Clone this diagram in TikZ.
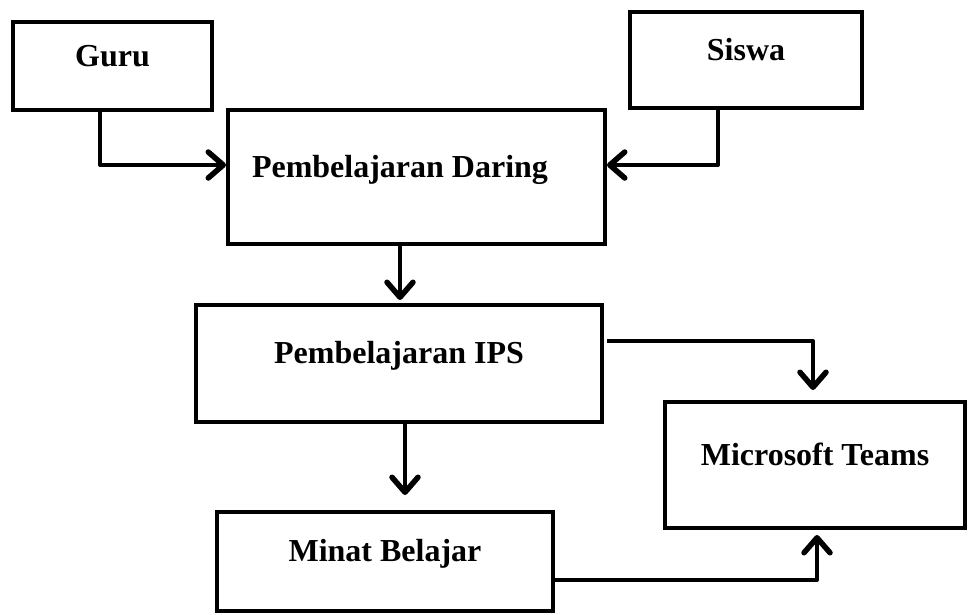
\documentclass[tikz,border=0pt]{standalone}
\usepackage{fontspec}
\setmainfont{Liberation Serif}
\usetikzlibrary{arrows.meta}

\tikzset{
	kotak/.style={draw, line width=4pt, rectangle, inner sep=0pt, text height=22pt, text depth=22pt, font=\fontsize{32}{38}\selectfont\bfseries},
	panah/.style={line width=4pt, line join=round, -{Straight Barb[length=15pt, width=26pt, line width=5.5pt, round]}}
}

\begin{document}
\begin{tikzpicture}[x=1pt, y=-1pt]
	\useasboundingbox (0,0) rectangle (968,614);
	\node [kotak, minimum width=199pt, minimum height=88pt] (guru) at (112.5, 66) {Guru};
	\node [kotak, minimum width=232pt, minimum height=96pt] (siswa) at (746, 60) {Siswa};
	\node [kotak, minimum width=377pt, minimum height=134pt] (daring) at (416.5, 177) {Pembelajaran Daring\hspace*{33pt}};
	\node [kotak, minimum width=406pt, minimum height=117pt] (ips) at (399, 363.5) {Pembelajaran IPS};
	\node [kotak, minimum width=300pt, minimum height=126pt] (teams) at (815, 465) {Microsoft Teams};
	\node [kotak, minimum width=336pt, minimum height=99pt] (minat) at (385, 561.5) {Minat Belajar};

	\draw [panah] ([xshift=-12.5pt]guru.south) |- ([yshift=12pt]daring.west);
	\draw [panah] ([xshift=-28pt]siswa.south) |- ([yshift=12pt]daring.east);
	\draw [panah, shorten >=3pt] ([xshift=-16.5pt]daring.south) -- ([xshift=-16.5pt]daring.south |- ips.north);
	\draw [panah, shorten >=10pt] ([yshift=22.5pt, xshift=3pt]ips.east) -| ([xshift=-2pt]teams.north);
	\draw [panah, shorten >=15pt] ([xshift=6pt]ips.south) -- ([xshift=6pt]ips.south |- minat.north);
	\draw [panah, shorten >=5pt] ([yshift=-18.5pt]minat.east) -| ([xshift=2pt]teams.south);
\end{tikzpicture}
\end{document}
